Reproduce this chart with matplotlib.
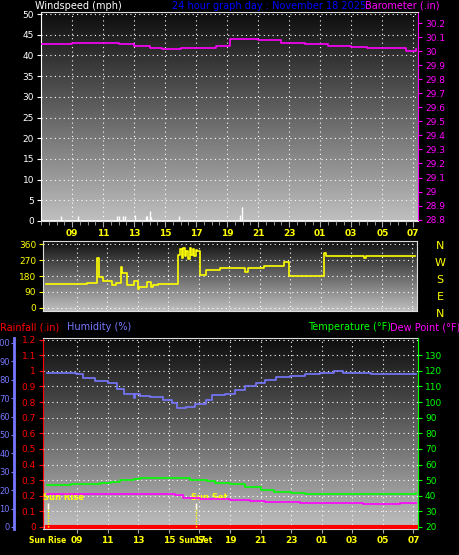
import numpy as np
import matplotlib.pyplot as plt

# hours after 07:00 on Nov 18
hour_labels = ['09', '11', '13', '15', '17', '19', '21', '23', '01', '03', '05', '07']
hour_ticks = [2, 4, 6, 8, 10, 12, 14, 16, 18, 20, 22, 24]

baro_h = [0, 1.0, 2.0, 3.5, 5.0, 6.0, 7.0, 7.8, 9.0, 10.5, 11.3, 12.2, 13.0, 14.0, 15.5, 17.0, 18.5, 20.0, 21.0, 22.5, 23.5, 24.2]
baro_v = [30.055, 30.055, 30.06, 30.06, 30.05, 30.035, 30.025, 30.015, 30.02, 30.025, 30.04, 30.085, 30.085, 30.08, 30.06, 30.05, 30.04, 30.03, 30.02, 30.02, 30.005, 30.015]

gust_h = [1.27, 2.4, 4.9, 5.0, 5.3, 5.4, 6.05, 6.75, 6.85, 7.05, 7.12, 8.9, 12.85, 12.93]
gust_v = [1.1, 1.1, 1.2, 1.2, 1.2, 1.2, 1.5, 1.2, 1.2, 2.5, 1.0, 1.1, 1.5, 3.5]

dir_h = [0, 2.7, 3.35, 3.5, 3.7, 4.3, 4.6, 4.9, 5.0, 5.3, 5.75, 6.0, 6.1, 6.6, 6.85, 7.0, 7.35, 8.65,
         8.8, 8.9, 9.0, 9.1, 9.2, 9.3, 9.4, 9.5, 9.6, 9.7, 9.8, 9.9, 10.1, 10.45, 11.4, 13.0, 13.2,
         14.25, 15.6, 15.9, 18.2, 18.35, 20.8, 20.95, 24.2]
dir_v = [135, 140, 280, 175, 150, 130, 140, 230, 195, 130, 150, 105, 120, 145, 120, 130, 135, 300,
         330, 280, 340, 295, 320, 275, 335, 300, 330, 290, 325, 320, 185, 215, 225, 205, 225,
         235, 260, 180, 310, 290, 280, 290, 290]

hum_h = [0, 1.9, 2.4, 3.2, 4.0, 4.6, 5.1, 5.7, 5.8, 6.1, 6.8, 7.6, 8.2, 8.55, 9.1, 9.7, 10.4, 10.8,
         11.7, 12.3, 13.0, 13.7, 14.3, 15.0, 15.95, 16.9, 17.9, 18.8, 19.4, 21.2, 24.2]
hum_v = [83.5, 83, 81, 79.5, 78, 75, 72, 70, 72.5, 71, 70.5, 69, 67.5, 64.5, 65, 67, 69, 71.5,
         72.5, 74.5, 76.5, 78, 80, 81.5, 82, 83, 83.5, 84.5, 83.5, 83, 83]

temp_h = [0, 1.6, 2.85, 3.5, 4.2, 4.8, 5.7, 6.1, 7.4, 8.7, 9.4, 10.5, 11.0, 12.0, 13.0, 14.0, 14.9, 16.0, 16.9, 18.6, 22.0, 24.2]
temp_v = [46.7, 47.3, 47.8, 48.2, 49, 50.3, 51, 51.2, 51.6, 51.4, 50.1, 49.5, 48.2, 47.3, 45.6, 43.9, 42.4, 41.8, 40.9, 40.9, 41.1, 41.6]

dew_h = [0, 3.9, 6.8, 8.4, 8.9, 10.05, 12.0, 13.3, 14.3, 16.6, 20.7, 21.8, 23.1, 24.2]
dew_v = [40.9, 41.4, 41.2, 40.3, 38.6, 37.7, 37.1, 36.4, 35.8, 35.2, 34.5, 34.9, 35.6, 35.2]

rain_h = [0, 24.2]
rain_v = [0, 0]

sunrise, sunset = 0.1, 9.75

W, H = 460, 555
fig = plt.figure(figsize=(W / 100, H / 100), dpi=100, facecolor='black')
plt.rcParams['font.family'] = 'DejaVu Sans'
TS = 6.5  # tick label size


def box(l, t, r, b):
    return [l / W, 1 - b / H, (r - l) / W, (b - t) / H]


def gradient(ax):
    g = np.linspace(0.05, 0.75, 256).reshape(-1, 1)
    ax.imshow(g, cmap='gray', vmin=0, vmax=1, aspect='auto', extent=[0, 1, 0, 1],
              origin='upper', transform=ax.transAxes, zorder=0)
    ax.grid(True, color='white', linestyle=(0, (1, 3)), linewidth=0.8)
    ax.set_axisbelow(False)


def style(ax, col):
    ax.set_facecolor('black')
    for s in ax.spines.values():
        s.set_color('#dddddd')
    ax.tick_params(colors=col, labelsize=TS, length=3, pad=2)


# ---- windspeed / barometer
ax1 = fig.add_axes(box(41, 12, 418, 221))
style(ax1, 'white')
gradient(ax1)
ax1.vlines(gust_h, 0, gust_v, color='white', linewidth=1, zorder=3)
ax1.axhline(0.1, color='white', linewidth=1.2, zorder=3)
ax1.set_xlim(0, 24.3)
ax1.set_ylim(0, 50.5)
ax1.set_yticks(range(0, 51, 5))
ax1.set_xticks(hour_ticks)
ax1.set_xticklabels(hour_labels, color='yellow')
ax1.set_xticks(np.arange(0, 24.3, 0.5), minor=True)
ax1.tick_params(axis='x', which='both', colors='#aaaaaa', labelcolor='yellow')
ax1.tick_params(axis='x', which='major', length=4)
ax1.tick_params(axis='x', which='minor', length=3)
for lab in ax1.get_xticklabels():
    lab.set_fontweight('bold')
ax1b = ax1.twinx()
ax1b.step(baro_h, baro_v, where='post', color='#ff00ff', linewidth=1.2, zorder=4)
ax1b.set_ylim(28.79, 30.28)
bt = np.round(np.arange(28.8, 30.25, 0.1), 1)
ax1b.set_yticks(bt)
ax1b.set_yticklabels([f'{v:g}' for v in bt])
ax1b.tick_params(colors='#ff00ff', labelsize=TS, length=3, pad=2)
for s in ax1b.spines.values():
    s.set_visible(False)
ax1.spines['left'].set_color('white')
ax1.spines['right'].set_color('#ff00ff')

fig.text(35 / W, 1 - 6 / H, 'Windspeed (mph)', color='white', fontsize=7, va='center')
fig.text(172 / W, 1 - 6 / H, '24 hour graph day : November 18 2025', color='#0000ff', fontsize=7, va='center')
fig.text(440 / W, 1 - 6 / H, 'Barometer (.in)', color='#ff00ff', fontsize=7, va='center', ha='right')

# ---- wind direction
ax2 = fig.add_axes(box(43, 241, 417, 311))
style(ax2, 'yellow')
gradient(ax2)
ax2.step(dir_h, dir_v, where='post', color='yellow', linewidth=1.2, zorder=4)
ax2.set_xlim(-0.2, 24.3)
ax2.set_ylim(-17, 377)
ax2.set_yticks([0, 90, 180, 270, 360])
ax2.set_xticks(hour_ticks)
ax2.tick_params(axis='x', labelbottom=False, length=0)
for i, c in enumerate('NWSEN'):
    fig.text(440 / W, 1 - (246 + i * 17) / H, c, color='yellow', fontsize=8, ha='center', va='center')

# ---- temperature / humidity / rain
ax3 = fig.add_axes(box(43, 338, 418, 529))
style(ax3, 'red')
gradient(ax3)
ax3.set_xlim(-0.23, 24.3)
ax3.set_ylim(-0.013, 1.21)
rt = np.round(np.arange(0, 1.21, 0.1), 1)
ax3.set_yticks(rt)
ax3.set_yticklabels([f'{v:g}' for v in rt])
ax3.step(rain_h, rain_v, where='post', color='red', linewidth=3, zorder=4)
ax3.set_xticks(hour_ticks)
ax3.set_xticklabels(hour_labels, color='yellow')
for lab in ax3.get_xticklabels():
    lab.set_fontweight('bold')
ax3.tick_params(axis='x', colors='#aaaaaa', labelcolor='yellow', labelsize=TS)
ax3.spines['left'].set_color('red')
ax3.spines['right'].set_color('#00ff00')

axh = ax3.twinx()
axh.set_ylim(-1.1, 102.7)
axh.step(hum_h, hum_v, where='post', color='#7777ff', linewidth=1.2, zorder=4)
axh.spines['left'].set_position(('outward', 21))
axh.spines['left'].set_visible(True)
axh.spines['left'].set_color('#7777ff')
axh.spines['left'].set_linewidth(2)
axh.spines['right'].set_visible(False)
axh.spines['top'].set_visible(False)
axh.spines['bottom'].set_visible(False)
axh.yaxis.set_ticks_position('left')
axh.yaxis.set_label_position('left')
axh.set_yticks(range(0, 101, 10))
axh.tick_params(colors='#7777ff', labelsize=6, length=2, pad=1)

axt = ax3.twinx()
axt.set_ylim(18.7, 141)
axt.step(temp_h, temp_v, where='post', color='#00ff00', linewidth=1.2, zorder=4)
axt.step(dew_h, dew_v, where='post', color='#ff00ff', linewidth=1.2, zorder=4)
axt.set_yticks(range(20, 131, 10))
axt.tick_params(colors='#00ff00', labelsize=TS, length=3, pad=2)
for s in ['left', 'top', 'bottom']:
    axt.spines[s].set_visible(False)
axt.spines['right'].set_color('#00ff00')

for hx, name in [(sunrise, 'Sun Rise'), (sunset, 'Sun Set')]:
    axh.vlines(hx, 0, 13, color='yellow', linestyle=(0, (1, 1)), linewidth=1, zorder=5)
    axh.vlines(hx, 10, 13, color='white', linewidth=1, zorder=5)
    axh.text(hx - 0.3, 16, name, color='yellow', fontsize=6, fontweight='bold', va='center', zorder=6)
    axh.text(hx, -7.5, name, color='yellow', fontsize=5.5, fontweight='bold', ha='center', va='center',
             zorder=6, clip_on=False)

fig.text(0, 1 - 327 / H, 'Rainfall (.in)', color='red', fontsize=7, va='center')
fig.text(67 / W, 1 - 327 / H, 'Humidity (%)', color='#7777ff', fontsize=7, va='center')
fig.text(391 / W, 1 - 327 / H, 'Temperature (°F)', color='#00ff00', fontsize=7, va='center', ha='right')
fig.text(460 / W, 1 - 327 / H, 'Dew Point (°F)', color='#ff00ff', fontsize=7, va='center', ha='right')

fig.savefig('out.png', dpi=100, facecolor='black')
